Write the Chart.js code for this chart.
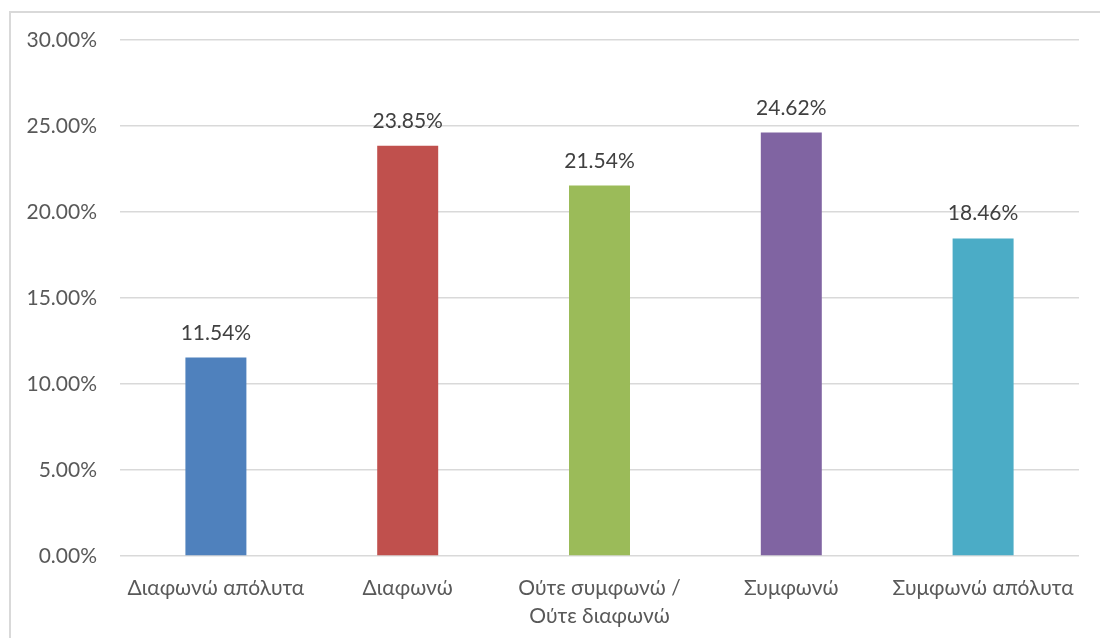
<!DOCTYPE html>
<html lang="el">
<head>
    <meta charset="UTF-8">
    <title>Bar chart</title>
    <script src="https://cdn.jsdelivr.net/npm/chart.js"></script>
    <style>
        html, body { margin: 0; padding: 0; background: #fff; }
        .wrap { position: relative; width: 1100px; height: 638px; overflow: hidden; }
        .frame {
            position: absolute; left: 9px; top: 11px; width: 1200px; height: 700px;
            border: 2px solid #d9d9d9; box-sizing: border-box;
        }
        canvas { position: absolute; left: 0; top: 0; }
    </style>
</head>
<body>
<div class="wrap">
    <div class="frame"></div>
    <canvas id="chart" width="1100" height="638"></canvas>
</div>
<script>
    const categories = ['Διαφωνώ απόλυτα', 'Διαφωνώ', ['Ούτε συμφωνώ /', 'Ούτε διαφωνώ'], 'Συμφωνώ', 'Συμφωνώ απόλυτα'];
    const values = [11.54, 23.85, 21.54, 24.62, 18.46];
    const colors = ['#4F81BD', '#C0504D', '#9BBB59', '#8064A2', '#4BACC6'];
    const yTicks = [0, 5, 10, 15, 20, 25, 30];

    const fontFamily = 'Lato, "Open Sans", sans-serif';

    // value labels above each bar
    const barLabels = {
        id: 'barLabels',
        afterDatasetsDraw(chart) {
            const ctx = chart.ctx;
            const meta = chart.getDatasetMeta(0);
            ctx.save();
            ctx.font = '21px ' + fontFamily;
            ctx.fillStyle = '#404040';
            ctx.textAlign = 'center';
            ctx.textBaseline = 'alphabetic';
            meta.data.forEach((bar, i) => {
                ctx.fillText(values[i].toFixed(2) + '%', bar.x, bar.y - 18);
            });
            ctx.restore();
        }
    };

    new Chart(document.getElementById('chart'), {
        type: 'bar',
        data: {
            labels: categories,
            datasets: [{
                data: values,
                backgroundColor: colors,
                barPercentage: 0.318,
                categoryPercentage: 1
            }]
        },
        options: {
            responsive: false,
            animation: false,
            layout: { padding: { top: 40, right: 21, left: 0, bottom: 0 } },
            plugins: { legend: { display: false }, tooltip: { enabled: false } },
            scales: {
                x: {
                    grid: { display: false, drawTicks: false },
                    border: { display: false },
                    ticks: {
                        color: '#595959',
                        font: { family: fontFamily, size: 21, lineHeight: 1.35 },
                        padding: 18,
                        maxRotation: 0
                    },
                    afterFit(scale) { scale.height = 82; }
                },
                y: {
                    min: 0,
                    max: 30,
                    grid: { color: '#d9d9d9', lineWidth: 1.5, drawTicks: false },
                    border: { display: false },
                    afterBuildTicks(scale) { scale.ticks = yTicks.map(v => ({ value: v })); },
                    ticks: {
                        color: '#595959',
                        font: { family: fontFamily, size: 21 },
                        padding: 23,
                        callback: v => v.toFixed(2) + '%'
                    },
                    afterFit(scale) { scale.width = 120; }
                }
            }
        },
        plugins: [barLabels]
    });
</script>
</body>
</html>
